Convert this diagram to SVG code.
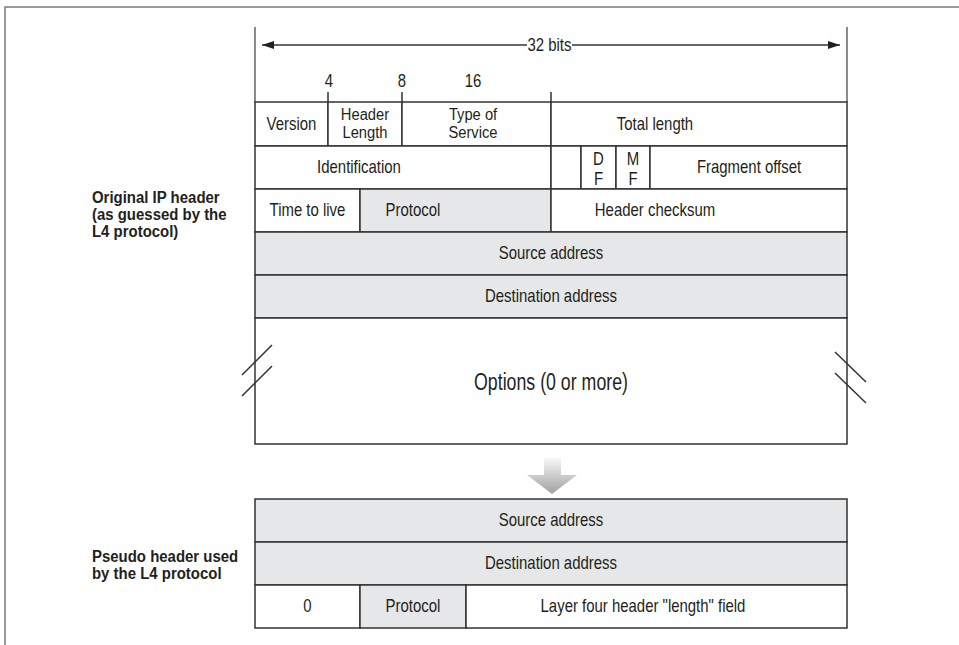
<svg xmlns="http://www.w3.org/2000/svg" width="959" height="645" viewBox="0 0 959 645">
<defs>
<style>
.t{font-family:"Liberation Sans Narrow","Liberation Sans",Arial,sans-serif;font-size:18px;fill:#231f20;text-anchor:middle;transform-box:fill-box;transform-origin:center;transform:scaleX(0.83)}
.two{font-size:16px;transform:scaleX(0.92)}
.b{font-family:"Liberation Sans Narrow","Liberation Sans",Arial,sans-serif;font-size:17px;font-weight:bold;fill:#231f20;transform-box:fill-box;transform-origin:left center;transform:scaleX(0.88)}
.big{font-size:24px;transform:scaleX(0.74)}
.c{stroke:#333;stroke-width:1.5;fill:#fff}
.g{stroke:#333;stroke-width:1.5;fill:#e6e7e8}
.ln{stroke:#333;stroke-width:1.5;fill:none}
.edge{stroke:#666;stroke-width:1.5;fill:none}
.frame{stroke:#7a7a7a;stroke-width:1.5;fill:none}
</style>
<marker id="ah" viewBox="0 0 12 8" refX="12" refY="4" markerWidth="12" markerHeight="8" markerUnits="userSpaceOnUse" orient="auto-start-reverse"><path d="M0,0 L12,4 L0,8 z" fill="#231f20"/></marker>
<linearGradient id="dg" gradientUnits="userSpaceOnUse" x1="0" y1="458" x2="0" y2="494"><stop offset="0" stop-color="#f8f8f8"/><stop offset="1" stop-color="#a0a0a0"/></linearGradient>
</defs>
<rect width="959" height="645" fill="#fff"/>
<path class="frame" d="M5,645 V7 H959"/>

<g id="scale">
<path class="edge" d="M255,27 V102 M847,27 V102"/>
<path class="ln" d="M328,92 V102 M402,92 V102 M551,92 V102"/>
<text class="t" x="329" y="87">4</text>
<text class="t" x="402" y="87">8</text>
<text class="t" x="473" y="87">16</text>
<text class="t" x="549.5" y="51">32 bits</text>
</g>

<g id="ip-header">
<g id="version"><rect class="c" x="255" y="102" width="73" height="44"/><text class="t" x="291.5" y="130">Version</text></g>
<g id="header-length"><rect class="c" x="328" y="102" width="74" height="44"/><text class="t two" x="365" y="120">Header</text><text class="t two" x="365" y="138">Length</text></g>
<g id="tos"><rect class="c" x="402" y="102" width="149" height="44"/><text class="t two" x="473" y="120">Type of</text><text class="t two" x="473" y="138">Service</text></g>
<g id="total-length"><rect class="c" x="551" y="102" width="296" height="44"/><text class="t" x="655" y="130">Total length</text></g>

<g id="identification"><rect class="c" x="255" y="146" width="296" height="43"/><text class="t" x="359" y="173">Identification</text></g>
<g id="flag-blank"><rect class="c" x="551" y="146" width="30" height="43"/></g>
<g id="df"><rect class="c" x="581" y="146" width="35" height="43"/><text class="t" x="598.5" y="165">D</text><text class="t" x="598.5" y="185">F</text></g>
<g id="mf"><rect class="c" x="616" y="146" width="34" height="43"/><text class="t" x="633" y="165">M</text><text class="t" x="633" y="185">F</text></g>
<g id="fragment-offset"><rect class="c" x="650" y="146" width="197" height="43"/><text class="t" x="749" y="173">Fragment offset</text></g>

<g id="ttl"><rect class="c" x="255" y="189" width="105" height="43"/><text class="t" x="307.5" y="216">Time to live</text></g>
<g id="protocol"><rect class="g" x="360" y="189" width="191" height="43"/><text class="t" x="413" y="216">Protocol</text></g>
<g id="checksum"><rect class="c" x="551" y="189" width="296" height="43"/><text class="t" x="655" y="216">Header checksum</text></g>

<g id="src"><rect class="g" x="255" y="232" width="592" height="43"/><text class="t" x="551" y="259.5">Source address</text></g>
<g id="dst"><rect class="g" x="255" y="275" width="592" height="43"/><text class="t" x="551" y="302.5">Destination address</text></g>

<g id="options"><rect class="c" x="255" y="318" width="592" height="126"/><text class="t big" x="551" y="390">Options (0 or more)</text>
<path class="ln" d="M272,345 L242,375 M272,366 L242,396 M835,352 L866,382 M835,373 L866,403"/></g>
</g>

<g id="label-original">
<text class="b" x="92" y="203">Original IP header</text>
<text class="b" x="92" y="220">(as guessed by the</text>
<text class="b" x="92" y="237">L4 protocol)</text>
</g>

<g id="pseudo-header">
<g id="p-src"><rect class="g" x="255" y="499" width="592" height="43"/><text class="t" x="551" y="526.5">Source address</text></g>
<g id="p-dst"><rect class="g" x="255" y="542" width="592" height="43"/><text class="t" x="551" y="569.5">Destination address</text></g>
<g id="p-zero"><rect class="c" x="255" y="585" width="105" height="43"/><text class="t" x="307.5" y="612.5">0</text></g>
<g id="p-protocol"><rect class="g" x="360" y="585" width="106" height="43"/><text class="t" x="413" y="612.5">Protocol</text></g>
<g id="p-length"><rect class="c" x="466" y="585" width="381" height="43"/><text class="t" x="643" y="612.5">Layer four header "length" field</text></g>
</g>

<g id="label-pseudo">
<text class="b" x="92" y="562">Pseudo header used</text>
<text class="b" x="92" y="579">by the L4 protocol</text>
</g>

<g id="connectors">
<path class="ln" d="M262,45 H527" stroke="#231f20" marker-start="url(#ah)"/>
<path class="ln" d="M572,45 H840" stroke="#231f20" marker-end="url(#ah)"/>
<path d="M544,458 H561 V475 H577 L552,494 L527,475 H544 Z" fill="url(#dg)"/>
</g>
</svg>
